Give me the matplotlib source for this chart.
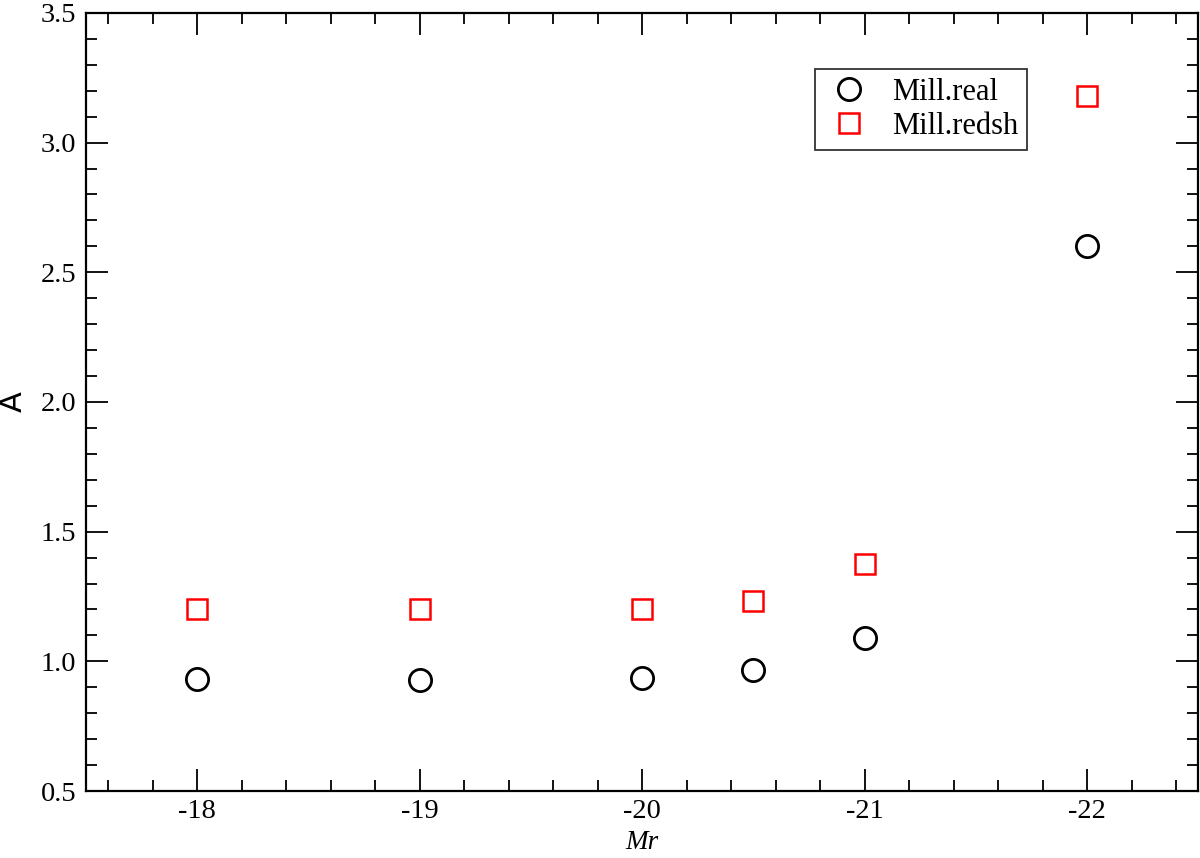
import matplotlib
matplotlib.use("Agg")
import matplotlib.pyplot as plt
from matplotlib.ticker import MultipleLocator

# magnitude bins and clustering amplitude
mr = [-18, -19, -20, -20.5, -21, -22]
a_real = [0.932, 0.930, 0.937, 0.965, 1.090, 2.60]
a_redsh = [1.203, 1.200, 1.203, 1.232, 1.375, 3.18]

plt.rcParams["font.family"] = ["Liberation Serif", "DejaVu Serif"]

fig = plt.figure(figsize=(12, 8.58), dpi=100)
ax = fig.add_axes([0.0717, 0.078, 0.927, 0.907])

ax.plot(mr, a_real, "o", ms=16, mfc="none", mec="black", mew=2.0,
        ls="none", label="Mill.real")
ax.plot(mr, a_redsh, "s", ms=14, mfc="none", mec="red", mew=1.8,
        ls="none", label="Mill.redsh")

ax.set_xlim(-17.5, -22.5)
ax.set_ylim(0.5, 3.5)
ax.xaxis.set_major_locator(MultipleLocator(1))
ax.xaxis.set_minor_locator(MultipleLocator(0.2))
ax.yaxis.set_major_locator(MultipleLocator(0.5))
ax.yaxis.set_minor_locator(MultipleLocator(0.1))
ax.xaxis.set_major_formatter(plt.FuncFormatter(lambda v, p: "%d" % v))
ax.yaxis.set_major_formatter(plt.FuncFormatter(lambda v, p: "%.1f" % v))

ax.tick_params(which="both", direction="in", top=True, right=True,
               width=1.3, labelsize=20.5)
ax.tick_params(which="major", length=16, pad=5.5)
ax.tick_params(axis="y", which="major", pad=7)
ax.tick_params(which="minor", length=8)
for s in ax.spines.values():
    s.set_linewidth(1.6)

ax.set_xlabel("Mr", fontsize=19.5, style="italic")
ax.xaxis.set_label_coords(0.5, -0.050)
ax.set_ylabel("A", fontsize=22, family="DejaVu Sans")
ax.yaxis.set_label_coords(-0.052, 0.5)

leg = ax.legend(loc="upper right", bbox_to_anchor=(0.846, 0.928),
                fontsize=22, frameon=True, fancybox=False,
                edgecolor="black", handletextpad=0.6, borderpad=0.3,
                labelspacing=0.15, handlelength=1.6, borderaxespad=0)
leg.get_frame().set_linewidth(1.3)

fig.savefig("out.png", dpi=100)
